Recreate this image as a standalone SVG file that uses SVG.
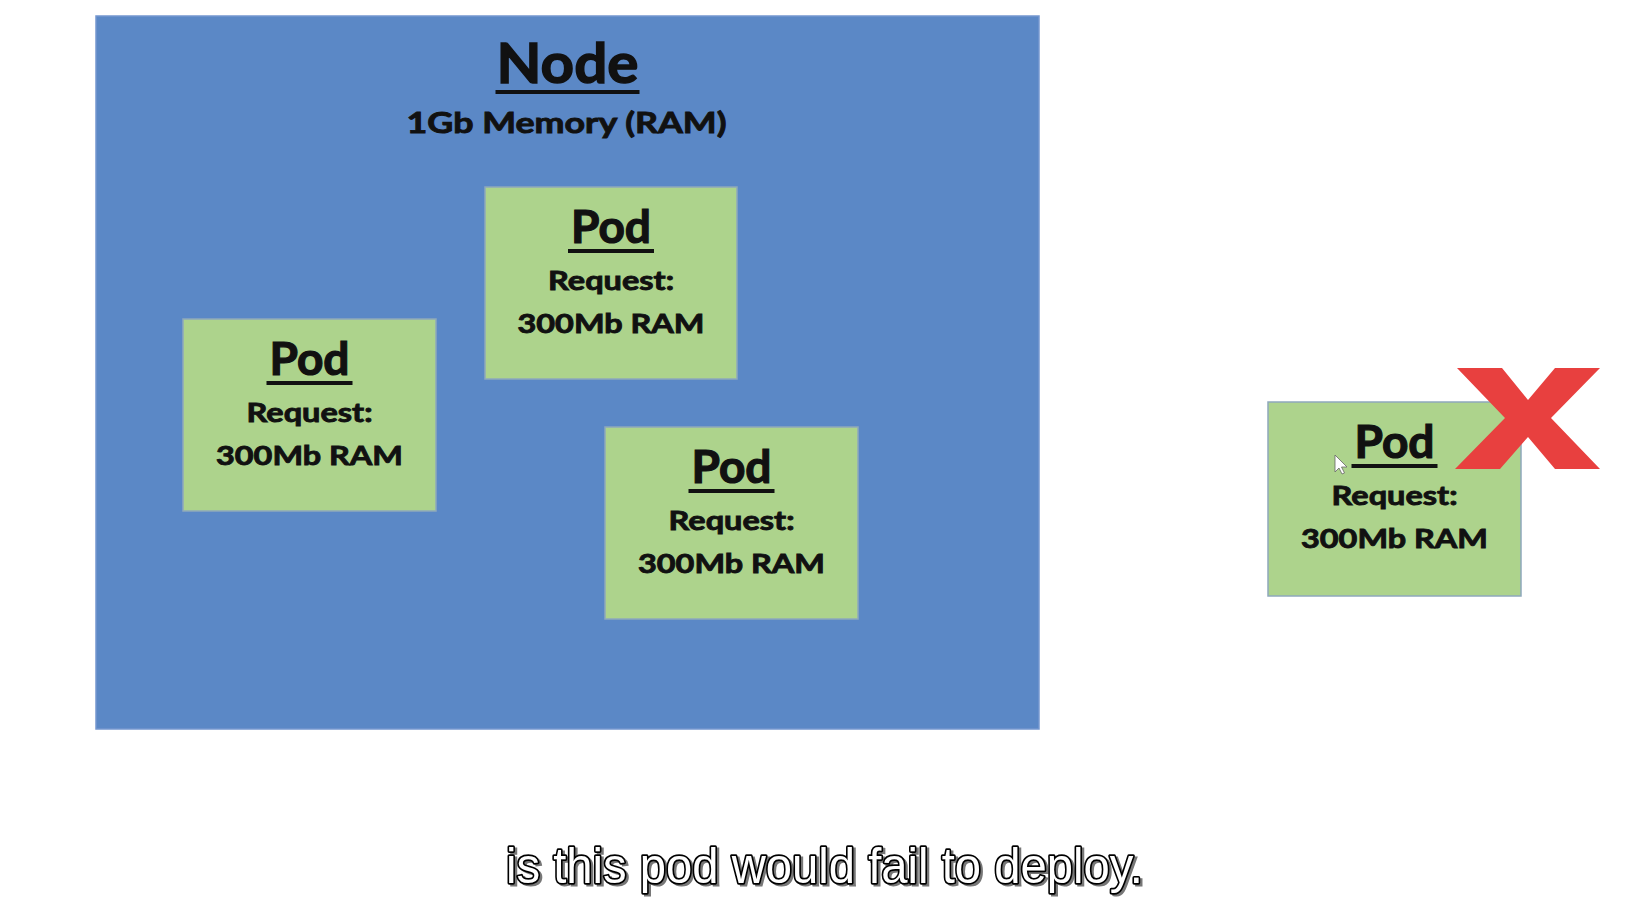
<svg xmlns="http://www.w3.org/2000/svg" width="1634" height="901" viewBox="0 0 1634 901">
<style>
.bg{fill:#ffffff}
.node{fill:#5B88C6;stroke:#7497CF;stroke-width:1.5}
.pod{fill:#ADD38C;stroke:#8EA8BC;stroke-width:1.5}
.t{font-family:Lato,"Liberation Sans",sans-serif;font-weight:bold;fill:#111;stroke:#111;stroke-width:0.9;text-anchor:middle}
.title{font-size:56px;stroke-width:1.4}
.sub{font-size:29px}
.podt{font-size:45px;stroke-width:1.2}
.req{font-size:27px}
.ul{fill:#111}
.xmark{fill:#E8403F}
.cap{font-family:"Liberation Sans",Arial,sans-serif;font-size:50px;text-anchor:middle}
.capsh{fill:#777;stroke:#777;stroke-width:3}
.capm{fill:#ffffff;stroke:#000;stroke-width:3.5;paint-order:stroke;stroke-linejoin:round}
</style>
<defs>
<g id="podtext">
<text class="t podt" x="0" y="56" textLength="80" lengthAdjust="spacingAndGlyphs">Pod</text>
<rect class="ul" x="-43" y="62" width="86" height="4"/>
<text class="t req" x="0" y="103" textLength="126" lengthAdjust="spacingAndGlyphs">Request:</text>
<text class="t req" x="0" y="146" textLength="187" lengthAdjust="spacingAndGlyphs">300Mb RAM</text>
</g>
</defs>
<rect class="bg" x="0" y="0" width="1634" height="901"/>
<g id="node">
<rect class="node" x="96" y="16" width="943" height="713"/>
<text class="t title" x="567.5" y="83" textLength="142" lengthAdjust="spacingAndGlyphs">Node</text>
<rect class="ul" x="495.5" y="90" width="144" height="4"/>
<text class="t sub" x="566.5" y="133" textLength="320" lengthAdjust="spacingAndGlyphs">1Gb Memory (RAM)</text>
</g>
<g id="pod-left">
<rect class="pod" x="183" y="319" width="253" height="192"/>
<use href="#podtext" x="309.5" y="319"/>
</g>
<g id="pod-top">
<rect class="pod" x="485" y="187" width="252" height="192"/>
<use href="#podtext" x="611" y="187"/>
</g>
<g id="pod-bottom">
<rect class="pod" x="605" y="427" width="253" height="192"/>
<use href="#podtext" x="731.5" y="427"/>
</g>
<g id="pod-rejected">
<rect class="pod" x="1268" y="402" width="253" height="194"/>
<use href="#podtext" x="1394.5" y="402"/>
<polygon points="1335,455 1335,472 1339,468 1342,474 1344.5,473 1341.5,467 1347,467" fill="#fff" stroke="#666" stroke-width="0.8"/>
</g>
<g id="x-mark">
<polygon class="xmark" points="1457,368 1502,368 1528,400 1555,368 1600,368 1551,418 1600,469 1555,469 1528,437 1500,469 1455,469 1505,418"/>
</g>
<g id="connectors"></g>
<g id="caption">
<text class="cap capsh" x="827" y="885" textLength="637" lengthAdjust="spacingAndGlyphs">is this pod would fail to deploy.</text>
<text class="cap capm" x="824.5" y="882.5" textLength="637" lengthAdjust="spacingAndGlyphs">is this pod would fail to deploy.</text>
</g>
</svg>
